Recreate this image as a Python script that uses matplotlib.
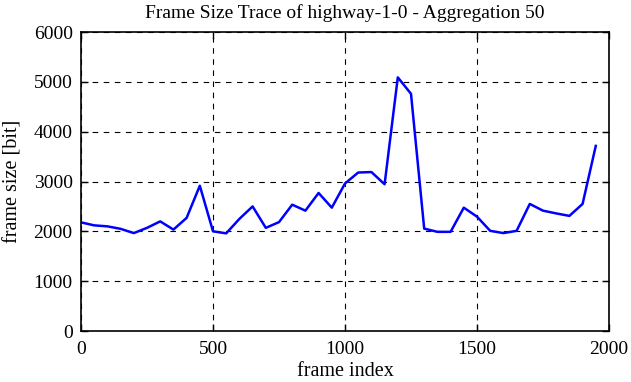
import matplotlib
matplotlib.use("Agg")
import matplotlib.pyplot as plt

frame_index = list(range(0, 2000, 50))
frame_size = [2180, 2120, 2100, 2050, 1965, 2070, 2200, 2035, 2270, 2915,
              2000, 1960, 2250, 2500, 2070, 2185, 2535, 2415, 2770, 2475,
              2960, 3180, 3190, 2945, 5090, 4760, 2055, 1990, 1990, 2475,
              2295, 2010, 1965, 2010, 2550, 2415, 2360, 2310, 2550, 3715]

plt.rcParams['font.family'] = ['Liberation Serif', 'DejaVu Serif']

fig = plt.figure(figsize=(6.31, 3.82), dpi=100)
ax = fig.add_axes([0.1284, 0.1335, 0.8367, 0.7827])
ax.plot(frame_index, frame_size, color='#0000ff', lw=1.8)
ax.set_xlim(0, 2000)
ax.set_ylim(0, 6000)
ax.set_xticks([0, 500, 1000, 1500, 2000])
ax.set_yticks([0, 1000, 2000, 3000, 4000, 5000, 6000])
ax.grid(True, color='black', linestyle=(0, (5, 5)), lw=0.8)
ax.tick_params(direction='in', top=True, right=True, labelsize=14, length=5, width=1)
ax.tick_params(axis='x', pad=7)
ax.tick_params(axis='y', pad=6)
for s in ax.spines.values():
    s.set_linewidth(1.2)
ax.set_xlabel('frame index', fontsize=14.5, labelpad=3)
ax.set_ylabel('frame size [bit]', fontsize=14.5, labelpad=8)
ax.set_title('Frame Size Trace of highway-1-0 - Aggregation 50', fontsize=14, pad=10)
fig.savefig('out.png', dpi=100)
